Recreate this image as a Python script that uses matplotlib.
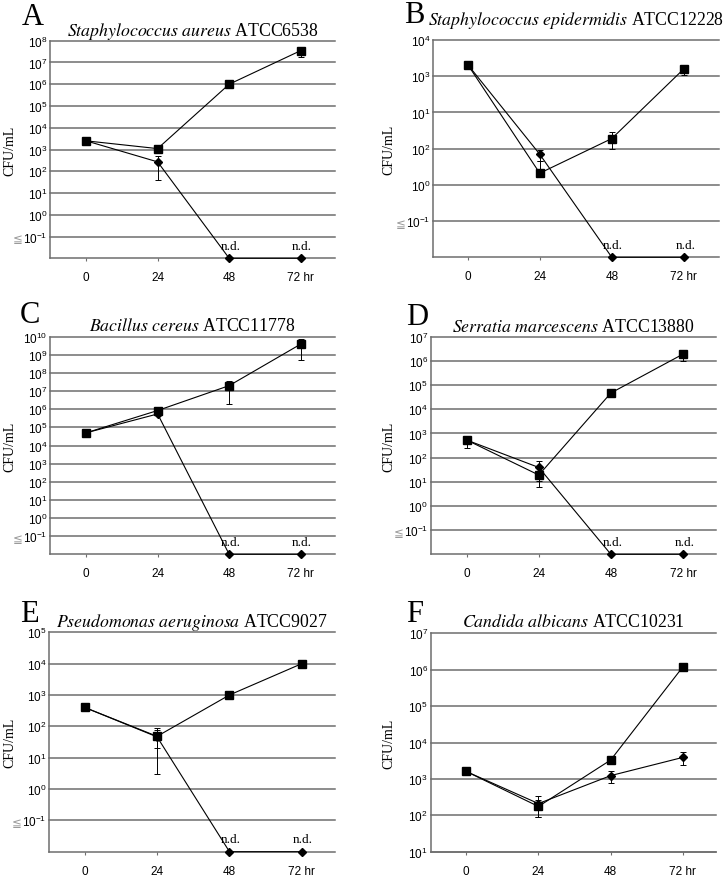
import matplotlib
matplotlib.use('Agg')
import matplotlib.pyplot as plt
from matplotlib.ticker import FixedLocator, NullLocator
import numpy as np

plt.rcParams['mathtext.fontset'] = 'custom'
plt.rcParams['mathtext.rm'] = 'Liberation Sans'
plt.rcParams['mathtext.it'] = 'Liberation Sans:italic'
plt.rcParams['mathtext.bf'] = 'Liberation Sans:bold'

W, H = 727, 878

hours = [0, 24, 48, 72]
hour_labels = ['0', '24', '48', '72 hr']

# A  Staphylococcus aureus
a_sq = [2500, 1100, 1.0e6, 3.5e7]
a_sq_err = [300, 150, 1.2e5, 1.8e7]
a_di = [2500, 270, None, None]
a_di_err = [300, 230, None, None]
a_exp = ['-1', '0', '1', '2', '3', '4', '5', '6', '7', '8']

# B  Staphylococcus epidermidis (tick labels as printed in the original)
b_sq = [2100, 2.1, 19, 1600]
b_sq_err = [200, 2.5, 9.5, 500]
b_di = [2100, 7.0, None, None]
b_di_err = [200, 2.3, None, None]
b_exp = ['-1', '0', '2', '1', '3', '4']

# C  Bacillus cereus
c_sq = [50000, 8.5e5, 2.0e7, 3.9e9]
c_sq_err = [6000, 1.0e5, 1.8e7, 3.4e9]
c_di = [50000, 5.5e5, None, None]
c_di_err = [6000, 6.0e4, None, None]
c_exp = ['-1', '0', '1', '2', '3', '4', '5', '6', '7', '8', '9', '10']

# D  Serratia marcescens
d_sq = [530, 19, 47000, 1.9e6]
d_sq_err = [280, 8, 8000, 9.0e5]
d_di = [530, 39, None, None]
d_di_err = [100, 33, None, None]
d_exp = ['-1', '0', '1', '2', '3', '4', '5', '6', '7']

# E  Pseudomonas aeruginosa
e_sq = [400, 48, 1000, 10000]
e_sq_err = [40, 27, 150, 1500]
e_di = [400, 46, None, None]
e_di_err = [40, 43, None, None]
e_exp = ['-1', '0', '1', '2', '3', '4', '5']

# F  Candida albicans
f_sq = [1600, 175, 3300, 1.2e6]
f_sq_err = [150, 85, 600, 1.0e5]
f_di = [1600, 210, 1230, 3900]
f_di_err = [150, 120, 450, 1500]
f_exp = ['1', '2', '3', '4', '5', '6', '7']

panels = [
    dict(letter='A', genus='Staphylococcus aureus', strain='ATCC6538',
         sq=a_sq, sq_err=a_sq_err, di=a_di, di_err=a_di_err, exp=a_exp,
         lo=-2, hi=8, nd=True, box=(50, 41.7, 335, 259.3), xl=(-12.1, 83.5),
         title_y=36, letter_xy=(22, 25), ylab_x=10),
    dict(letter='B', genus='Staphylococcus epidermidis', strain='ATCC12228',
         sq=b_sq, sq_err=b_sq_err, di=b_di, di_err=b_di_err, exp=b_exp,
         lo=-2, hi=4, nd=True, box=(433, 41, 719, 258.3), xl=(-11.55, 83.7),
         title_y=25, letter_xy=(404, 23), ylab_x=389),
    dict(letter='C', genus='Bacillus cereus', strain='ATCC11778',
         sq=c_sq, sq_err=c_sq_err, di=c_di, di_err=c_di_err, exp=c_exp,
         lo=-2, hi=10, nd=True, box=(50, 337.7, 335, 555.3), xl=(-12.1, 83.5),
         title_y=330.7, letter_xy=(20, 323), ylab_x=10),
    dict(letter='D', genus='Serratia marcescens', strain='ATCC13880',
         sq=d_sq, sq_err=d_sq_err, di=d_di, di_err=d_di_err, exp=d_exp,
         lo=-2, hi=7, nd=True, box=(430.7, 337.7, 715.7, 555.3), xl=(-12.0, 82.9),
         title_y=331.7, letter_xy=(406, 325), ylab_x=389),
    dict(letter='E', genus='Pseudomonas aeruginosa', strain='ATCC9027',
         sq=e_sq, sq_err=e_sq_err, di=e_di, di_err=e_di_err, exp=e_exp,
         lo=-2, hi=5, nd=True, box=(49.3, 633.3, 335, 852.7), xl=(-11.75, 83.0),
         title_y=626.7, letter_xy=(20, 622), ylab_x=10),
    dict(letter='F', genus='Candida albicans', strain='ATCC10231',
         sq=f_sq, sq_err=f_sq_err, di=f_di, di_err=f_di_err, exp=f_exp,
         lo=1, hi=7, nd=False, box=(430.7, 634.3, 715.7, 852.7), xl=(-11.8, 82.9),
         title_y=626.7, letter_xy=(406, 622), ylab_x=389),
]

GRAY = '#6e6e6e'
SERIF = 'Liberation Serif'
SANS = 'Liberation Sans'


def prep(vals, errs, floor):
    y, lo, hi = [], [], []
    for v, e in zip(vals, errs):
        if v is None:
            y.append(floor)
            lo.append(0)
            hi.append(0)
            continue
        y.append(v)
        if e is None:
            lo.append(0)
            hi.append(0)
        elif v - e <= 0:
            lo.append(0)
            hi.append(e)
        else:
            lo.append(e)
            hi.append(e)
    return y, [lo, hi]


fig = plt.figure(figsize=(W / 100, H / 100), dpi=100)
fig.patch.set_facecolor('white')

axes = []
for p in panels:
    l, t, r, b = p['box']
    ax = fig.add_axes([l / W, 1 - b / H, (r - l) / W, (b - t) / H])
    axes.append(ax)
    ymin, ymax = 10.0 ** p['lo'], 10.0 ** p['hi']
    ax.set_yscale('log')
    ax.set_ylim(ymin, ymax)
    ax.set_xlim(*p['xl'])

    first = p['lo'] + 1 if p['nd'] else p['lo']
    ticks = [10.0 ** k for k in range(first, p['hi'] + 1)]
    ax.yaxis.set_major_locator(FixedLocator(ticks))
    ax.yaxis.set_minor_locator(NullLocator())
    ax.set_yticklabels(['$10^{%s}$' % s for s in p['exp']], fontsize=8.5)
    ax.set_xticks(hours)
    ax.set_xticklabels(hour_labels, fontsize=8.5, family=SANS)
    ax.tick_params(axis='y', length=0, pad=2.0)
    ax.tick_params(axis='x', length=2.5, width=0.8, color=GRAY, pad=7.0)

    ax.yaxis.grid(True, color=GRAY, lw=1.1)
    for gl in ax.get_ygridlines():
        gl.set_clip_on(False)
    ax.set_axisbelow(True)
    for s in ['top', 'right']:
        ax.spines[s].set_visible(False)
    for s in ['left', 'bottom']:
        ax.spines[s].set_color(GRAY)
        ax.spines[s].set_linewidth(1.1)

    # diamonds then squares
    dy, derr = prep(p['di'], p['di_err'], ymin)
    sy, serr = prep(p['sq'], p['sq_err'], ymin)
    for y, err, mk, ms in [(dy, derr, 'D', 4.0), (sy, serr, 's', 5.3)]:
        ax.errorbar(hours, y, yerr=err, fmt='none', ecolor='black',
                    elinewidth=0.7, capsize=2.3, capthick=0.7, clip_on=False)
        ax.plot(hours, y, '-', color='black', lw=0.8, marker=mk, ms=ms,
                mfc='black', mec='black', clip_on=False, zorder=3)

    if p['nd']:
        for h, v in zip(hours, p['di']):
            if v is None:
                ax.annotate('n.d.', xy=(h, ymin), xytext=(1, 4.5),
                            textcoords='offset points', ha='center', va='bottom',
                            fontsize=9.5, family=SERIF)

    cx = (l + r) / 2
    fig.text(cx / W, 1 - p['title_y'] / H,
             r'$\mathit{%s}$ %s' % (p['genus'].replace(' ', r'\ '), p['strain']),
             ha='center', va='baseline', fontsize=12.8, family=SERIF,
             math_fontfamily='stix')
    lx, ly = p['letter_xy']
    fig.text(lx / W, 1 - ly / H, p['letter'], ha='left', va='baseline',
             fontsize=22, family=SERIF)
    fig.text(p['ylab_x'] / W, 1 - (t + b) / 2 / H, 'CFU/mL', rotation=90,
             ha='center', va='center', fontsize=10, family=SERIF)

# gray "≦" in front of the lowest (10^-1) label
fig.canvas.draw()
renderer = fig.canvas.get_renderer()
for ax, p in zip(axes, panels):
    if not p['nd']:
        continue
    lab = ax.get_yticklabels()[0]
    bb = lab.get_window_extent(renderer)
    fig.text((bb.x0 - 0.5) / W, (bb.y0 + bb.y1) / 2 / H - 1.0 / H, '≦',
             ha='right', va='center', fontsize=8.5, color='#9a9a9a',
             family=[SANS, 'DejaVu Sans'])

fig.savefig('out.png', dpi=100)
